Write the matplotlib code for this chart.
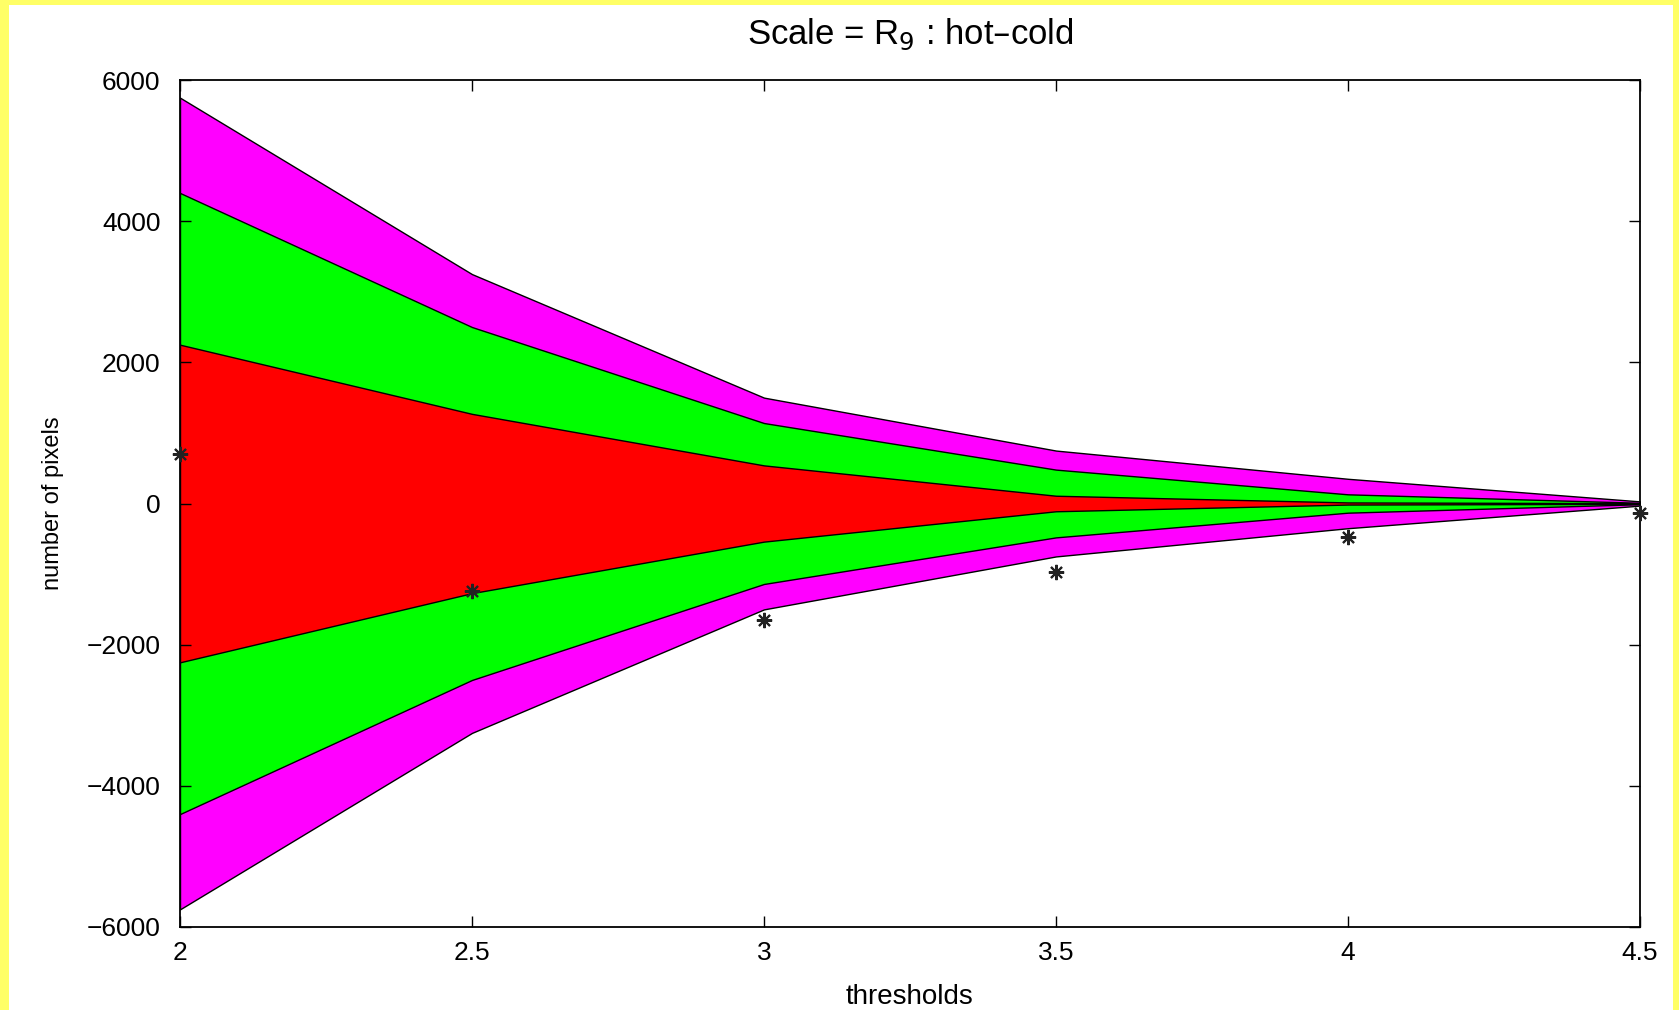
import matplotlib.pyplot as plt
from matplotlib.patches import Rectangle
import numpy as np

plt.rcParams['font.family'] = ['Liberation Sans', 'DejaVu Sans']

thresholds = [2, 2.5, 3, 3.5, 4, 4.5]
# half widths of the symmetric bands
band_outer = [5750, 3250, 1500, 750, 350, 30]    # magenta
band_middle = [4400, 2500, 1140, 480, 130, 10]   # green
band_inner = [2250, 1270, 540, 110, 15, 5]       # red
observed = [700, -1240, -1650, -970, -470, -130]

fig = plt.figure(figsize=(16.79, 10.10), dpi=100)
fig.patch.set_facecolor('#ffff66')
# white page inside the yellow frame
fig.patches.append(Rectangle((9 / 1679, 0), (1673 - 9) / 1679, 1 - 5 / 1010,
                             transform=fig.transFigure, facecolor='white',
                             edgecolor='none', zorder=-10))

ax = fig.add_axes([180 / 1679, 1 - 927 / 1010, (1640 - 180) / 1679, (927 - 80) / 1010])

x = np.array(thresholds)
for vals, col in [(band_outer, '#ff00ff'), (band_middle, '#00ff00'), (band_inner, '#ff0000')]:
    v = np.array(vals)
    ax.fill_between(x, -v, v, facecolor=col, edgecolor='black', linewidth=1.0)

ax.plot(thresholds, observed, linestyle='none', marker=(8, 2, 0), color='#222222',
        markersize=11, markeredgewidth=1.5, clip_on=False, zorder=5)

ax.set_xlim(2, 4.5)
ax.set_ylim(-6000, 6000)
ax.set_xticks([2, 2.5, 3, 3.5, 4, 4.5])
ax.set_xticklabels(['2', '2.5', '3', '3.5', '4', '4.5'])
ax.set_yticks([-6000, -4000, -2000, 0, 2000, 4000, 6000])
ax.tick_params(direction='in', top=True, right=True, labelsize=19, length=8, width=1)
ax.tick_params(axis='y', pad=14)
ax.tick_params(axis='x', pad=10)
for s in ax.spines.values():
    s.set_linewidth(1.3)

ax.set_title('Scale = R$_9$ : hot\u2013cold', fontsize=25, pad=26)
ax.set_xlabel('thresholds', fontsize=20, labelpad=14)
ax.set_ylabel('number of pixels', fontsize=17, labelpad=16)

fig.savefig('out.png', dpi=100, facecolor=fig.get_facecolor())
